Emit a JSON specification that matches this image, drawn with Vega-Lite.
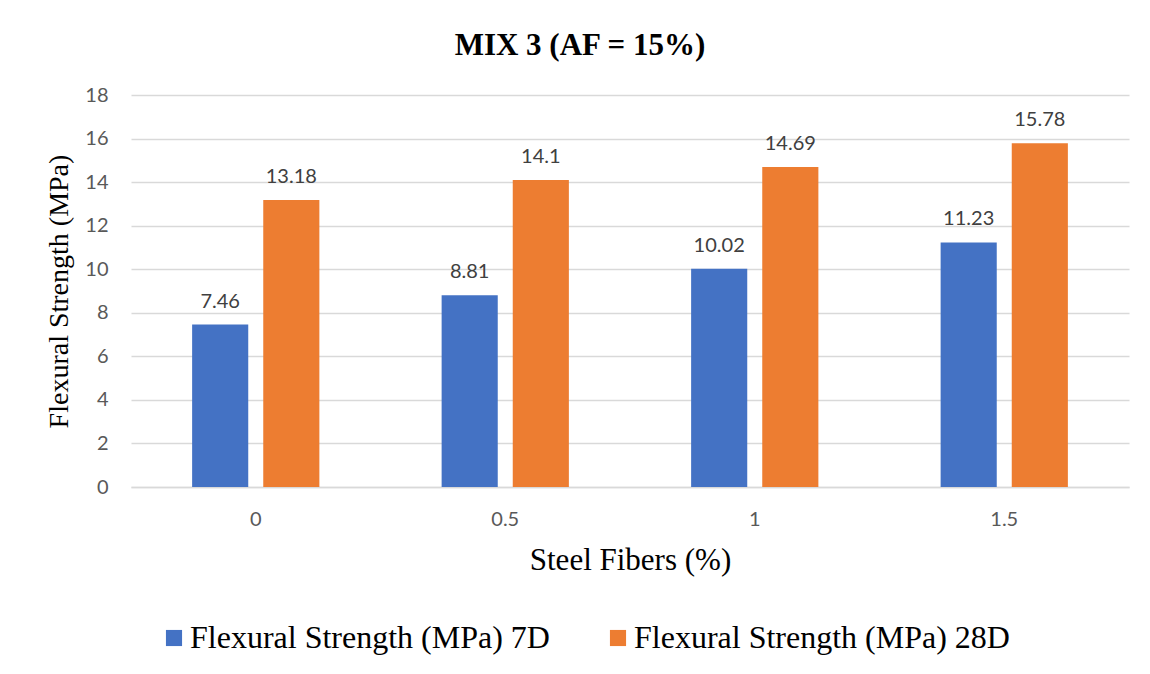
{
  "$schema": "https://vega.github.io/schema/vega-lite/v6.json",
  "width": 998,
  "height": 392,
  "autosize": {"type": "none"},
  "padding": {"left": 131, "top": 95, "right": 21, "bottom": 187},
  "background": "white",
  "title": {
    "text": "MIX 3 (AF = 15%)",
    "font": "Liberation Serif",
    "fontSize": 31,
    "fontWeight": "bold",
    "color": "#000000",
    "anchor": "middle",
    "dx": -50,
    "offset": 23
  },
  "data": {
    "values": [
      {"fiber": "0", "series": "Flexural Strength (MPa) 7D", "value": 7.46},
      {"fiber": "0", "series": "Flexural Strength (MPa) 28D", "value": 13.18},
      {"fiber": "0.5", "series": "Flexural Strength (MPa) 7D", "value": 8.81},
      {"fiber": "0.5", "series": "Flexural Strength (MPa) 28D", "value": 14.1},
      {"fiber": "1", "series": "Flexural Strength (MPa) 7D", "value": 10.02},
      {"fiber": "1", "series": "Flexural Strength (MPa) 28D", "value": 14.69},
      {"fiber": "1.5", "series": "Flexural Strength (MPa) 7D", "value": 11.23},
      {"fiber": "1.5", "series": "Flexural Strength (MPa) 28D", "value": 15.78}
    ]
  },
  "encoding": {
    "x": {
      "field": "fiber",
      "type": "nominal",
      "sort": ["0", "0.5", "1", "1.5"],
      "scale": {"paddingInner": 0.49, "paddingOuter": 0.245},
      "axis": {
        "title": "Steel Fibers (%)",
        "titleFont": "Liberation Serif",
        "titleFontSize": 31,
        "titleFontWeight": "normal",
        "titleColor": "#000000",
        "titlePadding": 16,
        "labelAngle": 0,
        "labelFont": "Lato",
        "labelFontSize": 20,
        "labelColor": "#595959",
        "labelPadding": 22,
        "ticks": false,
        "domain": true,
        "domainColor": "#d9d9d9",
        "domainWidth": 1.5,
        "grid": false
      }
    },
    "xOffset": {
      "field": "series",
      "type": "nominal",
      "sort": ["Flexural Strength (MPa) 7D", "Flexural Strength (MPa) 28D"],
      "scale": {"paddingInner": 0.211, "paddingOuter": 0}
    },
    "y": {
      "field": "value",
      "type": "quantitative",
      "scale": {"domain": [0, 18], "nice": false},
      "axis": {
        "values": [0, 2, 4, 6, 8, 10, 12, 14, 16, 18],
        "title": "Flexural Strength (MPa)",
        "titleFont": "Liberation Serif",
        "titleFontSize": 28,
        "titleFontWeight": "normal",
        "titleColor": "#000000",
        "titlePadding": 11,
        "labelFont": "Lato",
        "labelFontSize": 20,
        "labelColor": "#595959",
        "labelPadding": 23,
        "ticks": false,
        "domain": false,
        "grid": true,
        "gridColor": "#d9d9d9",
        "gridWidth": 1.5
      }
    },
    "color": {
      "field": "series",
      "type": "nominal",
      "sort": ["Flexural Strength (MPa) 7D", "Flexural Strength (MPa) 28D"],
      "scale": {"range": ["#4472C4", "#ED7D31"]},
      "legend": {
        "title": null,
        "orient": "none",
        "direction": "horizontal",
        "legendX": 27,
        "legendY": 527,
        "symbolType": "square",
        "symbolSize": 260,
        "symbolStrokeWidth": 0,
        "symbolOpacity": 1,
        "labelFont": "Liberation Serif",
        "labelFontSize": 32,
        "labelColor": "#000000",
        "labelLimit": 500,
        "labelOffset": 0,
        "columnPadding": 52
      }
    }
  },
  "layer": [
    {"mark": {"type": "bar"}},
    {
      "mark": {"type": "text", "baseline": "bottom", "dy": -13, "font": "Lato", "fontSize": 20, "color": "#404040"},
      "encoding": {"text": {"field": "value", "type": "quantitative"}, "color": {"value": "#404040"}}
    }
  ],
  "config": {"view": {"stroke": null}}
}
